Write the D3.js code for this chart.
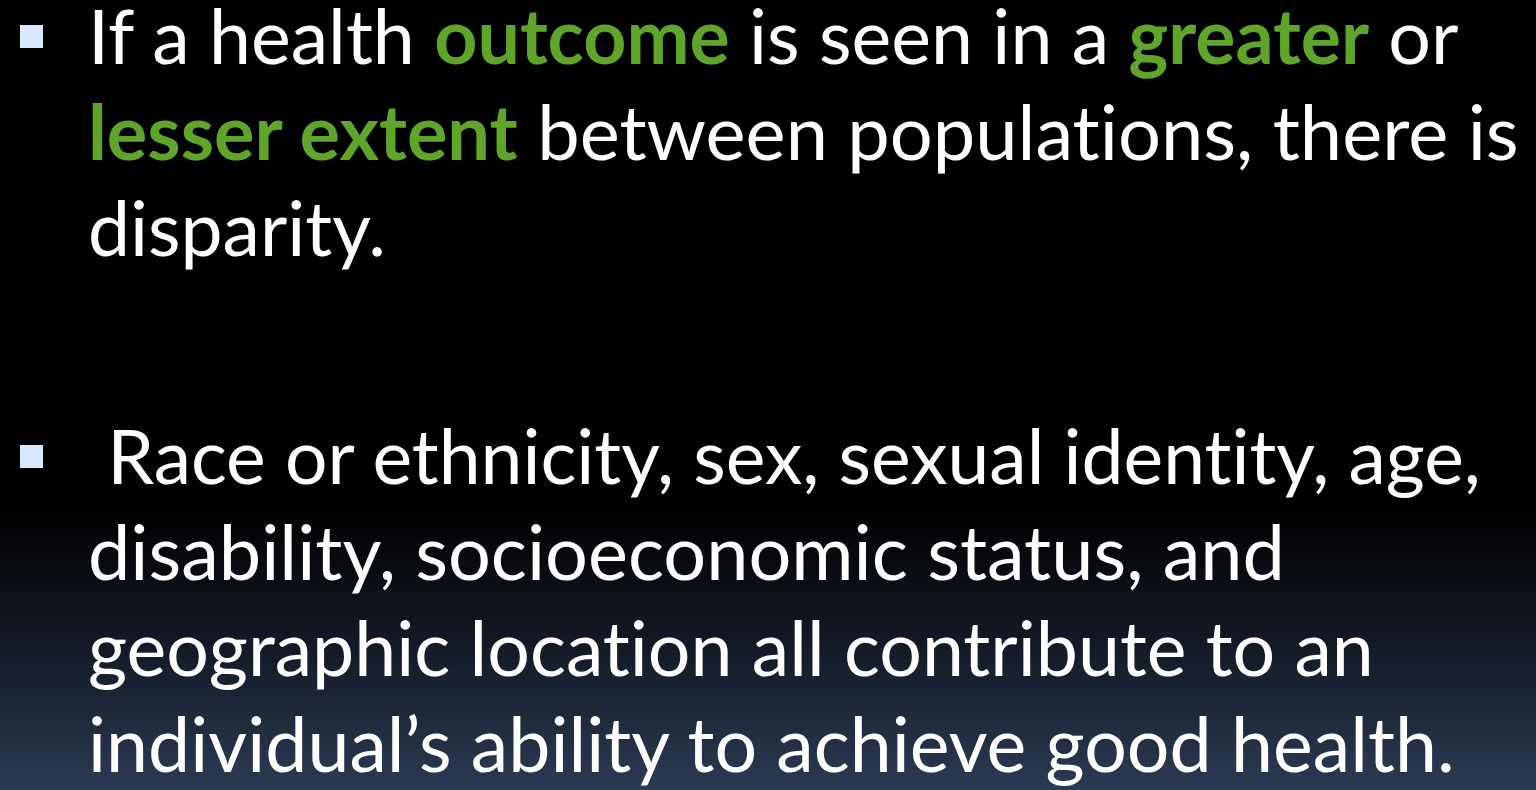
<!DOCTYPE html>
<html>
<head>
<meta charset="utf-8">
<script src="https://cdn.jsdelivr.net/npm/d3@7"></script>
<style>
  html, body { margin: 0; padding: 0; background: #000; overflow: hidden; }
  svg { display: block; }
  text { font-variant-ligatures: none; font-feature-settings: "liga" 0, "clig" 0; }
</style>
</head>
<body>
<svg id="slide" width="1536" height="790"></svg>
<script>
// ---- content (text segments; true = highlighted green bold) ----
const bullet1Lines = [
  [["If a health ", false], ["outcome", true], [" is seen in a ", false], ["greater", true], [" or", false]],
  [["lesser extent", true], [" between populations, there is", false]],
  [["disparity.", false]]
];
const bullet2Lines = [
  [[" Race or ethnicity, sex, sexual identity, age,", false]],
  [["disability, socioeconomic status, and", false]],
  [["geographic location all contribute to an", false]],
  [["individual\u2019s ability to achieve good health.", false]]
];
const paragraphs = [bullet1Lines, bullet2Lines];

// ---- layout ----
const W = 1536, H = 790;
const textLeft = 88;
const lineRightEdges = [[1459, 1519, 386], [1481, 1285, 1374, 1455]];
const paraFirstBaseline = [64, 484];
const lineStep = 96;
const fontSize = 76;
const green = "#5ea52a";

const svg = d3.select("#slide");
const defs = svg.append("defs");
const grad = defs.append("linearGradient").attr("id", "bg")
  .attr("x1", 0).attr("y1", 0).attr("x2", 0).attr("y2", 1);
grad.append("stop").attr("offset", "0").attr("stop-color", "#000000");
grad.append("stop").attr("offset", "0.64").attr("stop-color", "#000000");
grad.append("stop").attr("offset", "0.82").attr("stop-color", "#141a26");
grad.append("stop").attr("offset", "1").attr("stop-color", "#2c3a53");

svg.append("rect").attr("width", W).attr("height", H).attr("fill", "url(#bg)");

paragraphs.forEach((lines, p) => {
  const y = d3.scaleLinear().domain([0, 1]).range([paraFirstBaseline[p], paraFirstBaseline[p] + lineStep]);
  // bullet square
  svg.append("rect")
    .attr("x", 20).attr("y", y(0) - 39)
    .attr("width", 23).attr("height", 23)
    .attr("fill", "#d6eafc");

  lines.forEach((segs, i) => {
    const g = svg.append("g").attr("transform", `translate(${textLeft},${y(i)})`);
    const t = g.append("text")
      .attr("x", 0).attr("y", 0)
      .style("white-space", "pre")
      .attr("font-family", "Lato, 'Open Sans', sans-serif")
      .attr("font-size", fontSize);
    t.selectAll("tspan").data(segs).join("tspan")
      .text(d => d[0])
      .attr("fill", d => d[1] ? green : "#ffffff")
      .attr("font-weight", d => d[1] ? 700 : 400);
    const bb = t.node().getBBox();
    const target = lineRightEdges[p][i] - textLeft;
    const sx = target / (bb.x + bb.width);
    t.attr("transform", `scale(${sx},1)`);
  });
});
</script>
</body>
</html>
